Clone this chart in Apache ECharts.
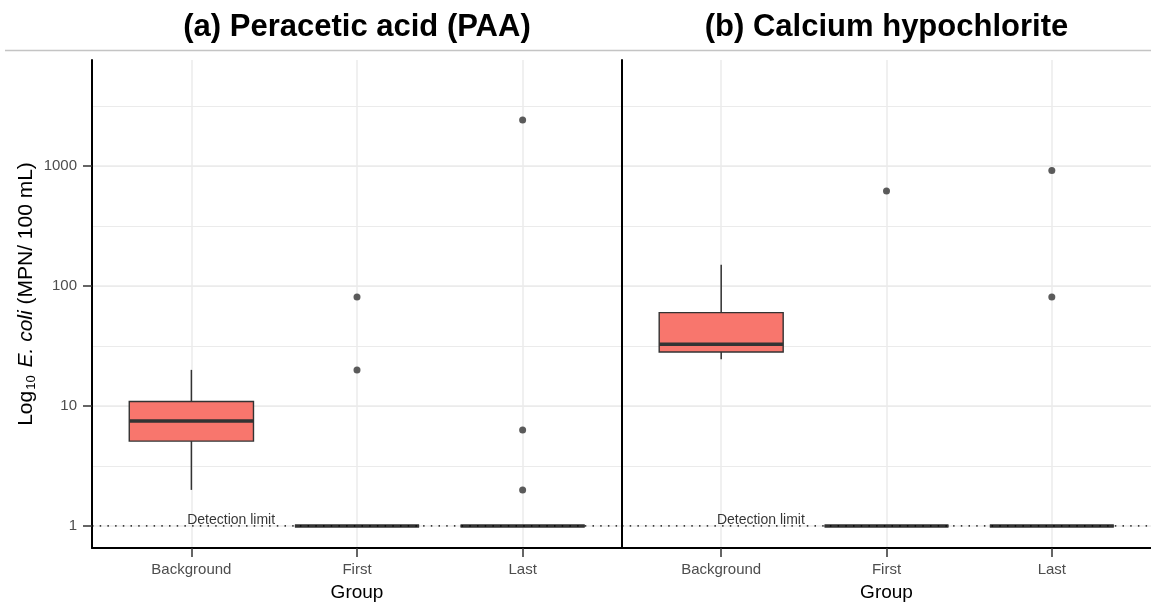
<!DOCTYPE html>
<html><head><meta charset="utf-8">
<script src="https://cdn.jsdelivr.net/npm/echarts@6/dist/echarts.min.js"></script>
<style>html,body{margin:0;padding:0;background:#fff}#c{width:1151px;height:603px}</style>
</head><body><div id="c"></div>
<script>
// ---------------- data (MPN / 100 mL) ----------------
const categories = ['Background', 'First', 'Last'];
const yTickLabels = ['1', '10', '100', '1000'];
const panelTitles = ['(a) Peracetic acid (PAA)', '(b) Calcium hypochlorite'];
// five-number summaries per category: [lower whisker, Q1, median, Q3, upper whisker]
const paaBoxes = [[2, 5.1, 7.5, 10.9, 20], [1, 1, 1, 1, 1], [1, 1, 1, 1, 1]];
const paaOutliers = [[], [81, 20], [2420, 6.3, 2]];
const caBoxes = [[24.5, 28.2, 32.7, 60, 150], [1, 1, 1, 1, 1], [1, 1, 1, 1, 1]];
const caOutliers = [[], [620], [915, 81]];
const detectionLimit = 1;
const detectionLabel = 'Detection limit';
const detectionLabelX = 0.24;           // category units from "Background"
const yRange = [0.656, 7640];           // visible y range of the panels

// ---------------- layout ----------------
const FONT = 'Liberation Sans, Arial, sans-serif';
const PT = 60, PB = 548;
const panels = [{ left: 92, width: 530 }, { left: 622, width: 529 }];
const lmin = Math.log10(yRange[0]), lmax = Math.log10(yRange[1]);
const ppd = (PB - PT) / (lmax - lmin);
const yPix = v => PB - (v - lmin) * ppd;
const GRID_COLOR = '#ebebeb';
const BOX_W = 0.75;

const grids = [], xAxes = [], yAxes = [], series = [];
const hidden = { show: false };
const gridBase = { containLabel: false, outerBoundsMode: 'none' };

function boxSeriesData(boxes) {
  return boxes.map((b, i) => [i].concat(b.map(v => Math.log10(v))));
}
function outlierData(outs) {
  const d = [];
  outs.forEach((arr, i) => arr.forEach(v => d.push([i, Math.log10(v)])));
  return d;
}

panels.forEach((p, pi) => {
  const base = grids.length;
  const unit = p.width / 3.2;
  const nCat = categories.length;
  // 0) grid M: minor horizontal grid lines
  grids.push(Object.assign({ left: p.left, top: yPix(3.5), width: p.width, height: 3 * ppd }, gridBase));
  xAxes.push({ gridIndex: base, type: 'value', min: 0, max: 1, show: false });
  yAxes.push({ gridIndex: base, type: 'value', min: 0.5, max: 3.5, interval: 0.5,
    axisLine: hidden, axisTick: hidden, axisLabel: hidden,
    splitLine: { show: true, lineStyle: { color: GRID_COLOR, width: 1 } } });
  // 1) grid L: major horizontal grid lines + y labels + detection line
  grids.push(Object.assign({ left: p.left, top: yPix(3), width: p.width, height: 3 * ppd }, gridBase));
  xAxes.push({ gridIndex: base + 1, type: 'value', min: 0, max: 1, show: false });
  yAxes.push({ gridIndex: base + 1, type: 'value', min: 0, max: 3, interval: 1,
    axisLine: { show: false },
    axisTick: { show: pi === 0, length: 9, lineStyle: { color: '#333', width: 1.5 } },
    axisLabel: { show: pi === 0, margin: 15, color: '#4d4d4d', fontSize: 15, fontFamily: FONT,
      formatter: v => yTickLabels[Math.round(v)] },
    splitLine: { show: true, lineStyle: { color: GRID_COLOR, width: 1.5 } } });
  // 2) grid V: vertical grid lines + x ticks/labels + axis title
  grids.push(Object.assign({ left: p.left + 0.6 * unit, top: PT, width: (nCat - 1) * unit, height: PB - PT }, gridBase));
  xAxes.push({ gridIndex: base + 2, type: 'value', min: 0, max: nCat - 1, interval: 1,
    axisLine: { show: false, onZero: false },
    axisTick: { show: true, length: 9, lineStyle: { color: '#333', width: 1.5 } },
    axisLabel: { margin: 14, color: '#4d4d4d', fontSize: 15, fontFamily: FONT,
      formatter: v => categories[Math.round(v)] },
    splitLine: { show: true, lineStyle: { color: GRID_COLOR, width: 1.5 } },
    name: 'Group', nameLocation: 'middle', nameGap: 35,
    nameTextStyle: { fontSize: 19, color: '#000', fontFamily: FONT } });
  yAxes.push({ gridIndex: base + 2, type: 'value', min: 0, max: 1, show: false });
  // 3) grid D: data (log10 units, same vertical mapping as grid L)
  grids.push(Object.assign({ left: p.left + 0.6 * unit, top: yPix(3), width: (nCat - 1) * unit, height: 3 * ppd }, gridBase));
  xAxes.push({ gridIndex: base + 3, type: 'value', min: 0, max: nCat - 1, show: false });
  yAxes.push({ gridIndex: base + 3, type: 'value', min: 0, max: 3, show: false });
  // 4) grid A: frame axis lines
  grids.push(Object.assign({ left: p.left, top: PT, width: p.width, height: PB - PT }, gridBase));
  xAxes.push({ gridIndex: base + 4, type: 'value', min: 0, max: 1,
    axisLine: { show: true, onZero: false, lineStyle: { color: '#000', width: 2 } },
    axisTick: hidden, axisLabel: hidden, splitLine: hidden });
  const yA = { gridIndex: base + 4, type: 'value', min: 0, max: 1,
    axisLine: { show: true, onZero: false, lineStyle: { color: '#000', width: 2 } },
    axisTick: hidden, axisLabel: hidden, splitLine: hidden };
  if (pi === 0) {
    Object.assign(yA, {
      name: '{n|Log}{s|10}{n| }{i|E. coli}{n| (MPN/ 100 mL)}',
      nameLocation: 'middle', nameGap: 54,
      nameTextStyle: {
        padding: [0, 0, 0, 20],
        rich: {
          n: { fontSize: 21, fontFamily: FONT, color: '#000' },
          i: { fontSize: 21, fontFamily: FONT, color: '#000', fontStyle: 'italic' },
          s: { fontSize: 13, fontFamily: FONT, color: '#000', padding: [11, 2, 0, 1] }
        }
      }
    });
  }
  yAxes.push(yA);

  const boxes = pi === 0 ? paaBoxes : caBoxes;
  const outs = pi === 0 ? paaOutliers : caOutliers;
  const dX = base + 3, dY = base + 3;

  series.push({
    type: 'custom', xAxisIndex: dX, yAxisIndex: dY, clip: false,
    data: boxSeriesData(boxes),
    encode: { x: 0, y: [1, 2, 3, 4, 5] },
    renderItem: function (params, api) {
      const x = api.value(0);
      const lo = api.coord([x, api.value(1)]);
      const q1 = api.coord([x, api.value(2)]);
      const md = api.coord([x, api.value(3)]);
      const q3 = api.coord([x, api.value(4)]);
      const hi = api.coord([x, api.value(5)]);
      const half = api.size([BOX_W, 0])[0] / 2;
      const st = { stroke: '#333', lineWidth: 1.5 };
      return { type: 'group', children: [
        { type: 'line', shape: { x1: lo[0], y1: lo[1], x2: q1[0], y2: q1[1] }, style: st },
        { type: 'line', shape: { x1: q3[0], y1: q3[1], x2: hi[0], y2: hi[1] }, style: st },
        { type: 'rect', shape: { x: q3[0] - half, y: q3[1], width: 2 * half, height: q1[1] - q3[1] },
          style: { fill: '#F8766D', stroke: '#333', lineWidth: 1.4 } },
        { type: 'line', shape: { x1: md[0] - half, y1: md[1], x2: md[0] + half, y2: md[1] },
          style: { stroke: '#333', lineWidth: 3.5 } }
      ] };
    },
    z: 2
  });
  series.push({
    type: 'scatter', xAxisIndex: dX, yAxisIndex: dY, clip: false,
    data: outlierData(outs), symbolSize: 7, itemStyle: { color: '#333' }, z: 3
  });
  series.push({
    type: 'scatter', xAxisIndex: dX, yAxisIndex: dY, clip: false,
    data: [[detectionLabelX, Math.log10(detectionLimit)]], symbolSize: 0, silent: true,
    label: { show: true, position: 'top', distance: -1, formatter: detectionLabel,
      color: '#000', fontSize: 14, fontFamily: FONT }
  });
  series.push({
    type: 'line', xAxisIndex: base + 1, yAxisIndex: base + 1,
    data: [[0, Math.log10(detectionLimit)], [1, Math.log10(detectionLimit)]],
    symbol: 'none', silent: true,
    lineStyle: { color: '#000', width: 1.5, type: [1.5, 6.2] }, z: 4
  });
});

const option = {
  animation: false,
  backgroundColor: '#fff',
  title: panelTitles.map((t, i) => ({
    text: t, left: panels[i].left + panels[i].width / 2, textAlign: 'center', top: 12, padding: 0,
    textStyle: { fontSize: 31, fontWeight: 'bold', color: '#000', fontFamily: FONT }
  })),
  graphic: [{ type: 'line', shape: { x1: 5, y1: 50.5, x2: 1151, y2: 50.5 },
    style: { stroke: '#c4c4c4', lineWidth: 1.5 }, silent: true }],
  grid: grids, xAxis: xAxes, yAxis: yAxes, series: series
};
const chart = echarts.init(document.getElementById('c'), null, { renderer: 'canvas' });
chart.setOption(option);
</script></body></html>
